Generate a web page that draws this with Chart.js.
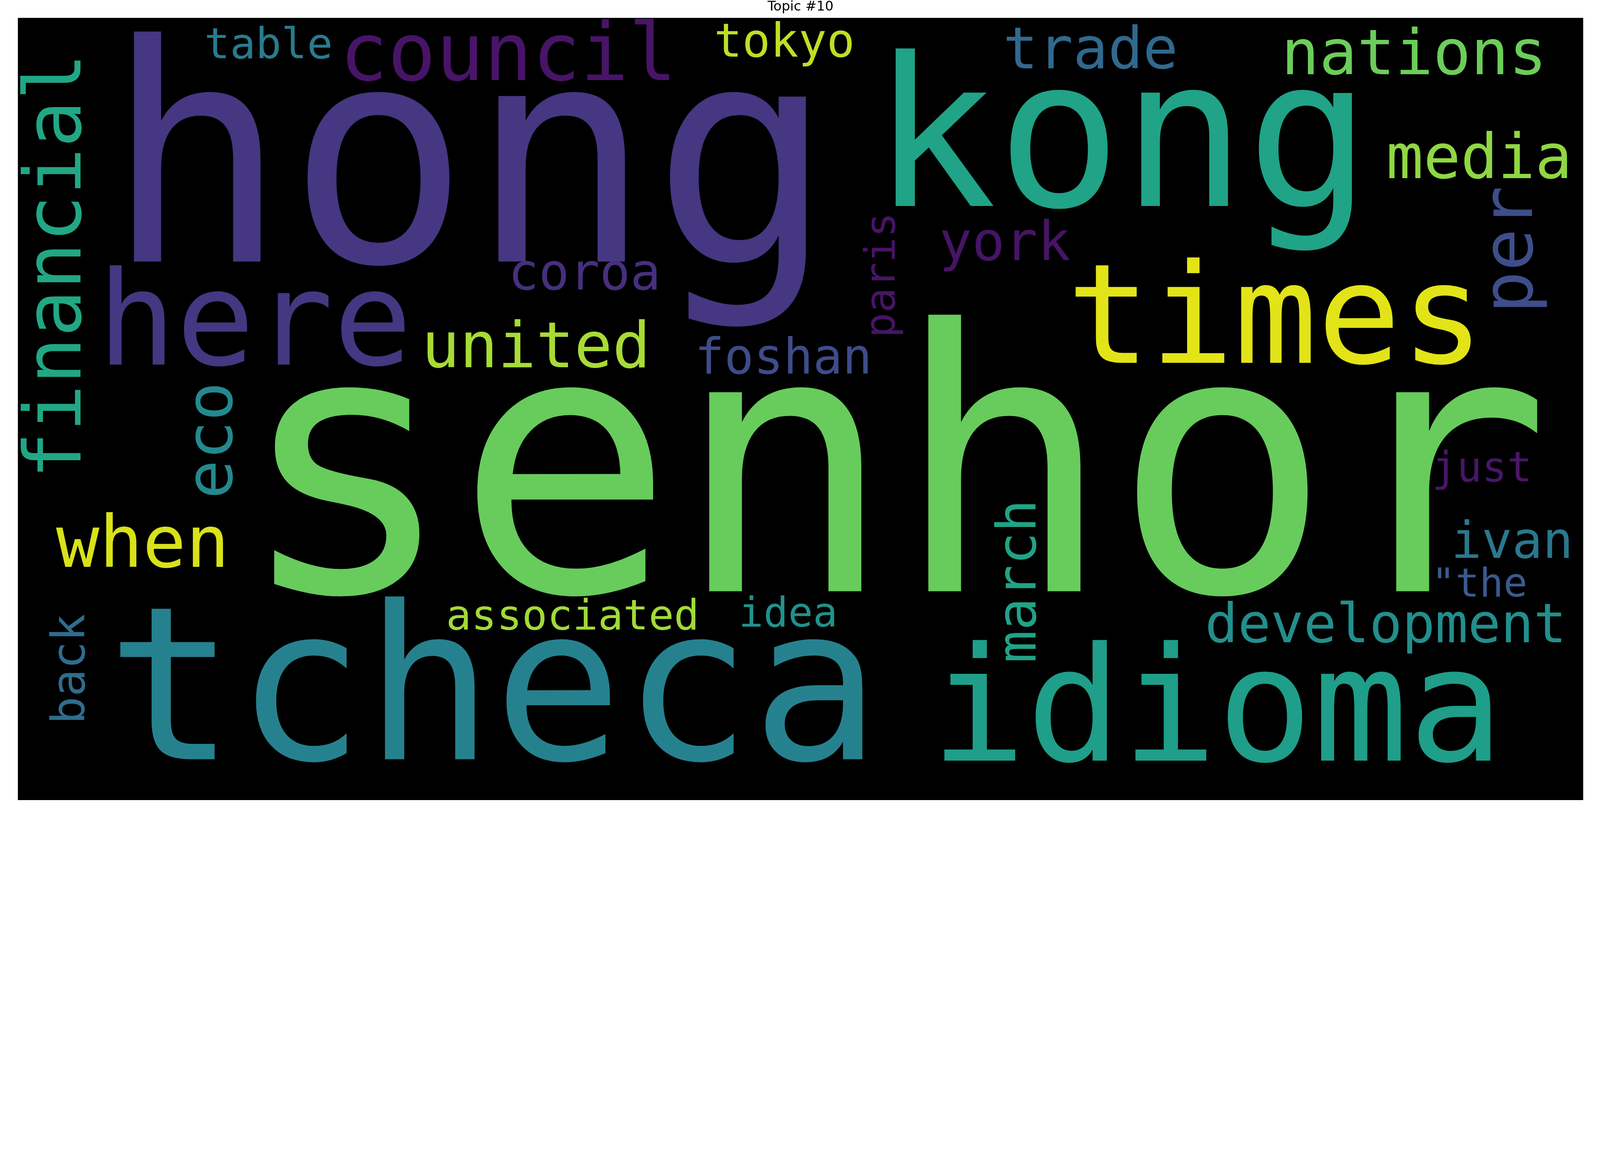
<!DOCTYPE html>
<html>
<head>
<meta charset="utf-8">
<script src="https://cdn.jsdelivr.net/npm/chart.js@4.4.1/dist/chart.umd.min.js"></script>
<style>
  html, body { margin: 0; padding: 0; background: #fff; overflow: hidden; }
</style>
</head>
<body>
<canvas id="cloud"></canvas>
<script>
// topic #10 word cloud, cloud is 800 x 400 units
const words = ['hong', 'table', 'council', 'tokyo', 'financial', 'here', 'coroa', 'united',
    'foshan', 'kong', 'trade', 'nations', 'media', 'york', 'paris', 'per', 'times', 'eco',
    'when', 'back', 'associated', 'tcheca', 'idea', 'senhor', 'just', 'ivan', '"the',
    'development', 'march', 'idioma'];
// left of the ink and baseline (vertical words: baseline x and lower end)
const wordX = [59.1, 96.5, 168.2, 357.2, 32.0, 46.9, 253.0, 209.3,
    348.1, 448.0, 505.3, 648.7, 700.9, 472.2, 448.0, 773.8, 540.5, 109.4,
    19.5, 33.9, 220.2, 52.2, 370.2, 129.1, 724.4, 734.7, 725.6,
    608.3, 520.2, 472.8];
const wordY = [124.6, 20.6, 31.9, 19.8, 232.1, 177.3, 138.9, 178.7,
    181.9, 96.2, 25.8, 28.8, 81.9, 123.9, 161.8, 148.0, 176.4, 244.2,
    280.8, 359.0, 312.6, 379.1, 311.4, 293.2, 237.0, 276.1, 296.0,
    319.2, 328.6, 379.8];
// font size in cloud units
const wordSize = [154.7, 21.8, 40.9, 23.9, 40.2, 66.8, 25.9, 32.4,
    25.1, 106.0, 29.7, 32.2, 31.6, 27.9, 21.3, 36.1, 70.9, 33.1,
    36.8, 23.4, 21.5, 109.5, 21.0, 186.0, 21.3, 25.9, 20.4,
    27.9, 27.8, 81.1];
const vertical = [false, false, false, false, true, false, false, false,
    false, false, false, false, false, false, true, true, false, true,
    false, true, false, false, false, false, false, false, false,
    false, true, false];
const wordColors = ['#453781', '#297b8e', '#481467', '#bddf26', '#22a785', '#453781', '#472f7d', '#a8db34',
    '#3e4c8a', '#20a386', '#30698e', '#6ccd5a', '#90d743', '#471466', '#471466', '#3d4e8a', '#e2e418', '#23898e',
    '#d8e219', '#2f6c8e', '#a2da37', '#26818e', '#21918c', '#67cc5c', '#481668', '#2a788e', '#3b598c',
    '#228f8d', '#21a386', '#1f9e89'];

const points = words.map((w, i) => ({x: wordX[i], y: wordY[i]}));

// the window may be narrower than 6000px, keep the 2:1 figure and scale it down
const W = Math.min(window.innerWidth, 2 * window.innerHeight);
const H = Math.round(W / 2);
const k = W / 6000;
const canvas = document.getElementById('cloud');
canvas.width = W;
canvas.height = H;
canvas.style.width = W + 'px';
canvas.style.height = H + 'px';

const cloudBg = {
    id: 'cloudBg',
    beforeDatasetsDraw(chart) {
        const {ctx, chartArea: a} = chart;
        ctx.save();
        ctx.fillStyle = '#000';
        ctx.fillRect(a.left, a.top, a.right - a.left, a.bottom - a.top);
        ctx.restore();
    }
};

const wordPlugin = {
    id: 'words',
    afterDatasetsDraw(chart) {
        const ctx = chart.ctx;
        const xs = chart.scales.x;
        const unit = xs.getPixelForValue(1) - xs.getPixelForValue(0);
        const meta = chart.getDatasetMeta(0);
        ctx.save();
        ctx.textBaseline = 'alphabetic';
        ctx.textAlign = 'left';
        meta.data.forEach((pt, i) => {
            ctx.font = (wordSize[i] * unit) + 'px "DejaVu Sans Mono"';
            const m = ctx.measureText(words[i]);
            ctx.fillStyle = wordColors[i];
            ctx.save();
            ctx.translate(pt.x, pt.y);
            if (vertical[i]) ctx.rotate(-Math.PI / 2);
            ctx.fillText(words[i], m.actualBoundingBoxLeft, 0);
            ctx.restore();
        });
        ctx.restore();
    }
};

const config = {
    type: 'scatter',
    data: {
        datasets: [{
            label: 'words',
            data: points,
            pointRadius: 0,
            showLine: false
        }]
    },
    options: {
        responsive: false,
        animation: false,
        devicePixelRatio: 1,
        layout: {padding: {left: 67 * k, right: 63 * k, top: 0, bottom: 0}},
        plugins: {
            legend: {display: false},
            tooltip: {enabled: false},
            title: {
                display: true,
                text: 'Topic #10',
                color: '#000',
                font: {family: 'DejaVu Sans', size: 50 * k, weight: 'normal', lineHeight: 1},
                padding: {top: 1 * k, bottom: 16 * k}
            }
        },
        scales: {
            x: {type: 'linear', min: 0, max: 800, display: false},
            y: {type: 'linear', min: 0, max: 400, reverse: true, display: false}
        }
    },
    plugins: [cloudBg, wordPlugin]
};

const myChart = new Chart(canvas, config);
</script>
</body>
</html>
